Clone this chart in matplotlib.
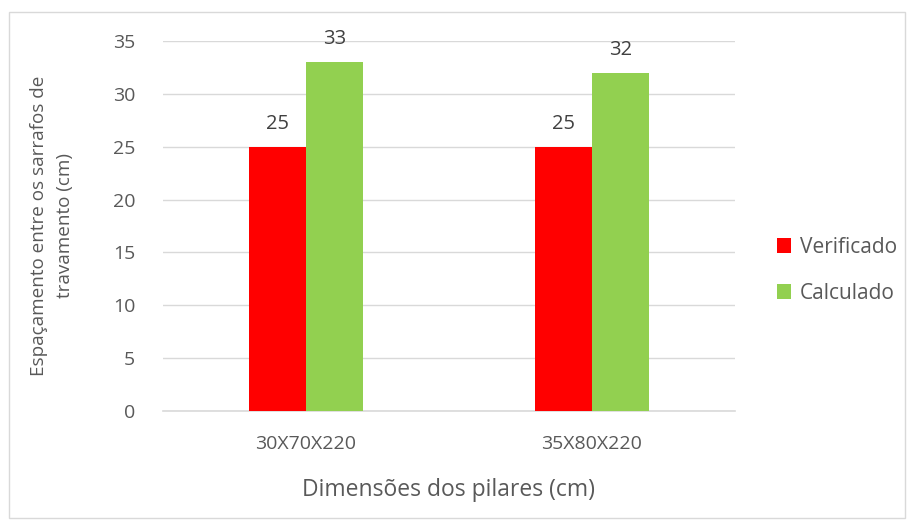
import matplotlib
matplotlib.use("Agg")
import matplotlib.pyplot as plt
import numpy as np
from matplotlib.patches import Rectangle

categories = ["30X70X220", "35X80X220"]
verificado = [25, 25]
calculado = [33, 32]
series_names = ["Verificado", "Calculado"]
yticks = [0, 5, 10, 15, 20, 25, 30, 35]

plt.rcParams['font.family'] = ['Open Sans', 'DejaVu Sans']
text_color = "#595959"
grid_color = "#d9d9d9"

W, H = 911, 522
fig = plt.figure(figsize=(W / 100, H / 100), dpi=100)
fig.patches.append(Rectangle((9 / W, 4 / H), (W - 15) / W, (H - 16) / H,
                             transform=fig.transFigure, fill=False,
                             edgecolor="#d9d9d9", linewidth=1))

ax = fig.add_axes([163 / W, 1 - 411 / H, (735 - 163) / W, (411 - 41) / H])

x = np.arange(len(categories))
w = 0.2
b1 = ax.bar(x - w / 2, verificado, w, color="#ff0000", label=series_names[0], zorder=3)
b2 = ax.bar(x + w / 2, calculado, w, color="#92d050", label=series_names[1], zorder=3)

for bars, vals in ((b1, verificado), (b2, calculado)):
    for r, v in zip(bars, vals):
        ax.text(r.get_x() + r.get_width() / 2, v + 1.2, f"{v}", ha="center",
                va="bottom", fontsize=14.5, color="#404040")

ax.set_xlim(-0.5, 1.5)
ax.set_ylim(0, 35)
ax.set_yticks(yticks)
ax.set_xticks(x)
ax.set_xticklabels(categories)
ax.yaxis.grid(True, color=grid_color, linewidth=1, zorder=0)
ax.tick_params(axis="both", length=0, labelsize=14, labelcolor=text_color)
ax.tick_params(axis="y", pad=20)
ax.tick_params(axis="x", pad=17)
for s in ("top", "right", "left"):
    ax.spines[s].set_visible(False)
ax.spines["bottom"].set_color(grid_color)
ax.spines["bottom"].set_linewidth(1.2)

ax.set_xlabel("Dimensões dos pilares (cm)", fontsize=16.5, color=text_color, labelpad=18)
ax.set_ylabel("Espaçamento entre os sarrafos de\ntravamento (cm)", fontsize=13.6,
              color=text_color, labelpad=28, linespacing=1.55)

leg = ax.legend(loc="center left", bbox_to_anchor=(1.04, 0.38), frameon=False,
                fontsize=15, labelcolor=text_color, handlelength=0.7,
                handleheight=0.7, handletextpad=0.4, labelspacing=1.2)

fig.savefig("out.png", dpi=100)
